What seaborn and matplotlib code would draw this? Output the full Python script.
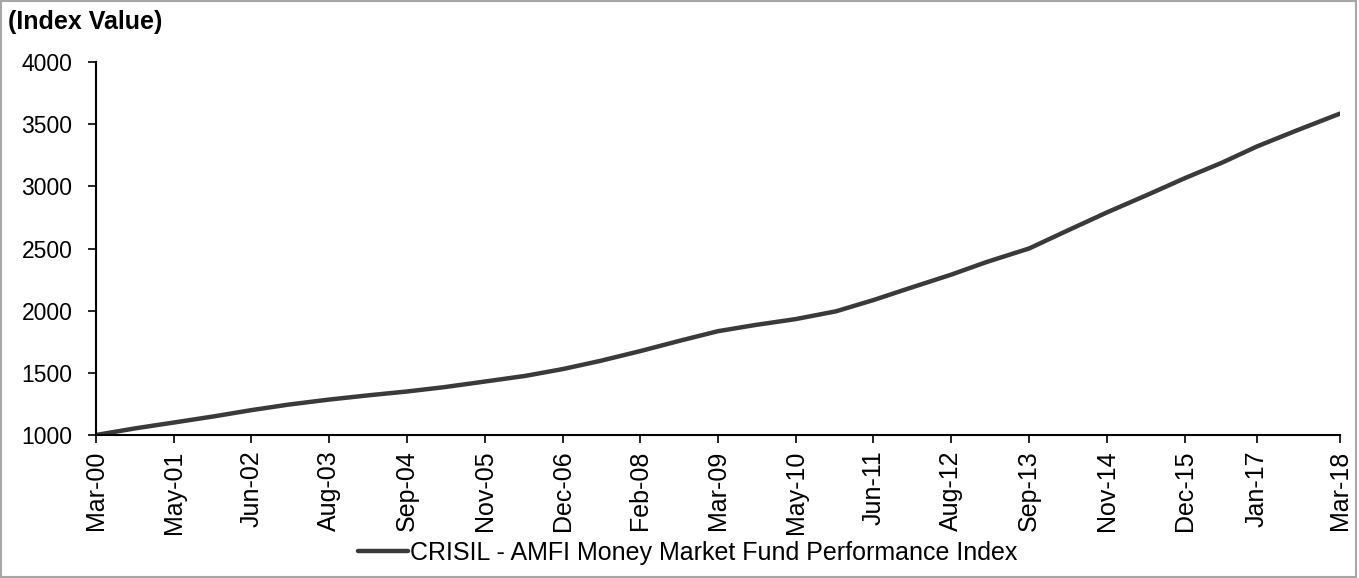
import matplotlib
matplotlib.use("Agg")
import matplotlib.pyplot as plt
import seaborn as sns
import pandas as pd
from matplotlib.patches import Rectangle

dates = ["2000-03-31", "2000-10-31", "2001-05-15", "2001-12-15", "2002-06-30",
         "2003-01-15", "2003-08-15", "2004-03-15", "2004-09-30", "2005-04-15",
         "2005-11-15", "2006-06-15", "2006-12-31", "2007-07-15", "2008-02-15",
         "2008-09-15", "2009-03-31", "2009-10-15", "2010-05-15", "2010-12-15",
         "2011-06-30", "2012-01-15", "2012-08-15", "2013-02-15", "2013-08-15",
         "2013-09-30", "2014-04-15", "2014-11-15", "2015-06-15", "2015-12-31",
         "2016-07-15", "2017-01-15", "2017-08-15", "2018-03-31"]
index_values = [1000, 1055, 1100, 1150, 1200,
                1245, 1285, 1320, 1350, 1385,
                1430, 1475, 1530, 1595, 1675,
                1760, 1835, 1885, 1932, 1995,
                2085, 2185, 2290, 2390, 2478,
                2500, 2640, 2790, 2930, 3065,
                3190, 3320, 3450, 3585]
tick_dates = ["2000-03-31", "2001-05-15", "2002-06-30", "2003-08-15", "2004-09-30",
              "2005-11-15", "2006-12-31", "2008-02-15", "2009-03-31", "2010-05-15",
              "2011-06-30", "2012-08-15", "2013-09-30", "2014-11-15", "2015-12-31",
              "2017-01-15", "2018-03-31"]
tick_labels = ["Mar-00", "May-01", "Jun-02", "Aug-03", "Sep-04", "Nov-05", "Dec-06",
               "Feb-08", "Mar-09", "May-10", "Jun-11", "Aug-12", "Sep-13", "Nov-14",
               "Dec-15", "Jan-17", "Mar-18"]
y_ticks = [1000, 1500, 2000, 2500, 3000, 3500, 4000]
series_name = "CRISIL - AMFI Money Market Fund Performance Index"

sns.set_style("ticks")
plt.rcParams["font.family"] = ["Liberation Sans", "DejaVu Sans"]
plt.rcParams["text.color"] = "black"
plt.rcParams["legend.labelcolor"] = "black"

df = pd.DataFrame({"Date": pd.to_datetime(dates), "Value": index_values,
                   "Series": series_name})

fig = plt.figure(figsize=(13.59, 5.78), dpi=100)
ax = fig.add_axes([0.0706, 0.2474, 0.9154, 0.6453])

sns.lineplot(data=df, x="Date", y="Value", hue="Series", palette=["#3a3a3a"],
             linewidth=3.2, ax=ax, legend=True)

ax.set_ylim(1000, 4000)
ax.set_yticks(y_ticks)
ax.set_xlim(pd.to_datetime(tick_dates[0]), pd.to_datetime(tick_dates[-1]))
ax.set_xticks(pd.to_datetime(tick_dates))
ax.set_xticklabels(tick_labels, rotation=90)
ax.tick_params(axis="both", colors="black", labelcolor="black", length=6, width=1.2)
ax.tick_params(axis="y", labelsize=16.5, pad=11)
ax.tick_params(axis="x", labelsize=18, pad=5)
ax.set_xlabel("")
ax.set_ylabel("")
for s in ["top", "right"]:
    ax.spines[s].set_visible(False)
for s in ["left", "bottom"]:
    ax.spines[s].set_color("black")
    ax.spines[s].set_linewidth(1.5)
ax.grid(False)

fig.text(0.006, 0.962, "(Index Value)", fontsize=18, fontweight="bold",
         color="black", ha="left", va="center")

leg = ax.legend(loc="center", bbox_to_anchor=(0.506, 0.043),
                bbox_transform=fig.transFigure, frameon=False,
                fontsize=18, handlelength=2.0, handletextpad=0.1,
                labelcolor="black")

fig.patches.append(Rectangle((0.001, 0.001), 0.997, 0.997, transform=fig.transFigure,
                             fill=False, edgecolor="#a6a6a6", linewidth=1.5))

fig.savefig("out.png", dpi=100)
